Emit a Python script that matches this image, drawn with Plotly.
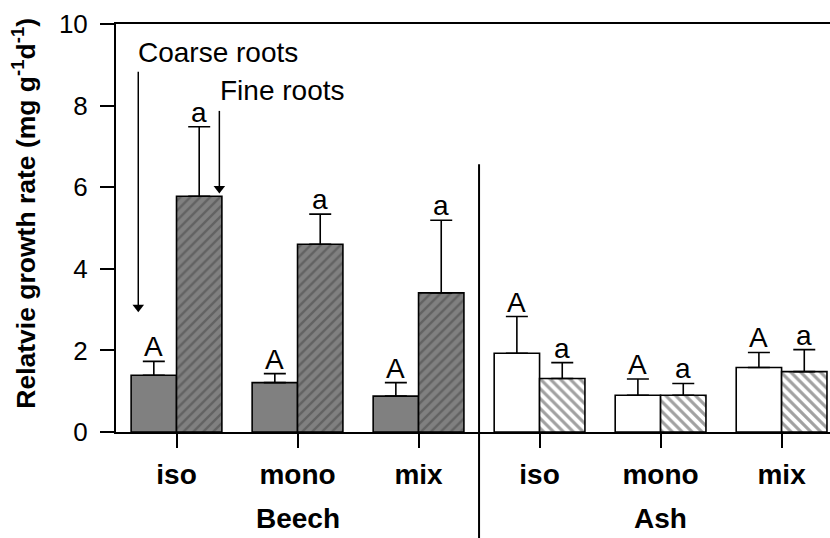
import plotly.graph_objects as go

# Relative growth rate of coarse and fine roots, beech and ash, three competition treatments
categories = ["iso", "mono", "mix", "iso", "mono", "mix"]
species = ["Beech", "Ash"]
coarse_rgr = [1.39, 1.21, 0.88, 1.93, 0.90, 1.58]
coarse_se = [0.34, 0.22, 0.33, 0.90, 0.40, 0.37]
fine_rgr = [5.78, 4.60, 3.41, 1.31, 0.90, 1.48]
fine_se = [1.70, 0.74, 1.78, 0.39, 0.29, 0.54]
coarse_letters = ["A", "A", "A", "A", "A", "A"]
fine_letters = ["a", "a", "a", "a", "a", "a"]
y_ticks = [0, 2, 4, 6, 8, 10]

# pointer arrows for the two root classes: x, tail y, head y
coarse_arrow = (-0.316, 8.83, 3.06)
fine_arrow = (0.354, 7.87, 5.97)

xpos = list(range(len(categories)))
FONT = "Liberation Sans, Arial, sans-serif"
GRAY = "#808080"

coarse_fill = [GRAY if i < 3 else "white" for i in xpos]
fine_bg = [GRAY if i < 3 else "white" for i in xpos]
fine_fg = ["white" if i < 3 else "black" for i in xpos]
fine_shape = ["/" if i < 3 else "\\" for i in xpos]
fine_solidity = [0.35 if i < 3 else 0.45 for i in xpos]

err_style = dict(type="data", symmetric=False, color="black", thickness=1.6, width=11)

fig = go.Figure()
fig.add_trace(go.Bar(
    x=xpos, y=coarse_rgr, name="Coarse roots",
    marker=dict(color=coarse_fill, line=dict(color="black", width=1.6)),
    error_y=dict(array=coarse_se, arrayminus=[0] * 6, **err_style),
))
fig.add_trace(go.Bar(
    x=xpos, y=fine_rgr, name="Fine roots",
    marker=dict(color=fine_bg, line=dict(color="black", width=1.6),
                pattern=dict(shape=fine_shape, fgcolor=fine_fg, bgcolor=fine_bg,
                             size=7, solidity=fine_solidity, fillmode="overlay")),
    error_y=dict(array=fine_se, arrayminus=[0] * 6, **err_style),
))

# arrows: a vertical stem with a filled triangle at the head
for ax_x, tail, head in (coarse_arrow, fine_arrow):
    fig.add_trace(go.Scatter(x=[ax_x, ax_x], y=[tail, head], mode="lines",
                             line=dict(color="black", width=1.5), hoverinfo="skip"))
    fig.add_trace(go.Scatter(x=[ax_x], y=[head], mode="markers", hoverinfo="skip",
                             marker=dict(symbol="triangle-down", size=10, color="black",
                                         line=dict(width=0)),
                             ))

annotations = []
# significance letters above the error bars
for i in xpos:
    annotations.append(dict(x=i - 0.1875, y=coarse_rgr[i] + coarse_se[i], text=coarse_letters[i],
                            showarrow=False, yanchor="bottom", yshift=-3,
                            font=dict(size=28, family=FONT, color="black")))
    annotations.append(dict(x=i + 0.1875, y=fine_rgr[i] + fine_se[i], text=fine_letters[i],
                            showarrow=False, yanchor="bottom", yshift=-3,
                            font=dict(size=28, family=FONT, color="black")))

# root class labels
annotations.append(dict(x=-0.335, y=9.29, text="Coarse roots", showarrow=False,
                        xanchor="left", yanchor="middle",
                        font=dict(size=28, family=FONT, color="black")))
annotations.append(dict(x=0.343, y=8.38, text="Fine roots", showarrow=False,
                        xanchor="left", yanchor="middle",
                        font=dict(size=28, family=FONT, color="black")))

# species group labels under the treatment labels
for j, sp in enumerate(species):
    annotations.append(dict(x=1 + 3 * j, y=0, yref="paper", text=f"<b>{sp}</b>",
                            showarrow=False, yanchor="middle", yshift=-86,
                            font=dict(size=28, family=FONT, color="black")))

# y axis title
annotations.append(dict(x=0, xref="paper", y=0.535, yref="paper",
                        text="<b>Relatvie growth rate (mg g<sup>-1</sup>d<sup>-1</sup>)</b>",
                        textangle=-90, showarrow=False, xanchor="center", yanchor="middle",
                        xshift=-92, font=dict(size=26.5, family=FONT, color="black")))

fig.update_layout(
    width=830, height=538,
    margin=dict(l=116, r=0, t=24, b=106),
    plot_bgcolor="white", paper_bgcolor="white",
    barmode="group", bargap=0.25, bargroupgap=0,
    showlegend=False,
    annotations=annotations,
    shapes=[dict(type="line", xref="x", yref="paper", x0=2.5, x1=2.5,
                 y0=-0.27, y1=0.656, line=dict(color="black", width=2))],
    font=dict(family=FONT, color="black"),
)
fig.update_xaxes(
    range=[-0.5, 5.4], tickvals=xpos,
    ticktext=[f"<b>{c}</b>" for c in categories],
    tickfont=dict(size=28, family=FONT, color="black"),
    ticks="outside", ticklen=14, tickwidth=1.6, tickcolor="black",
    showline=True, linecolor="black", linewidth=2, mirror=True,
    showgrid=False, zeroline=False, ticklabelstandoff=2,
)
fig.update_yaxes(
    range=[0, 10], tickvals=y_ticks,
    tickfont=dict(size=26, family=FONT, color="black"),
    ticks="outside", ticklen=14, tickwidth=1.6, tickcolor="black",
    showline=True, linecolor="black", linewidth=2, mirror=False,
    showgrid=False, zeroline=False, ticklabelstandoff=7,
)

fig.write_html("out.html")
